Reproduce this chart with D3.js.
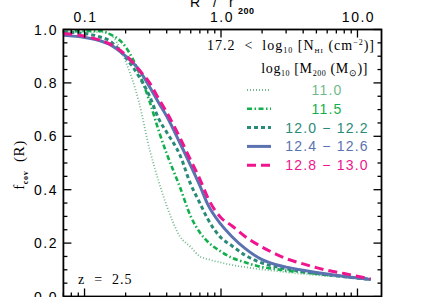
<!DOCTYPE html>
<html>
<head>
<meta charset="utf-8">
<script src="https://cdn.jsdelivr.net/npm/d3@7"></script>
<style>
  body { margin: 0; background: #fff; }
  svg { display: block; }
  .tick-label { font-family: "Liberation Sans", Arial, sans-serif; font-size: 14px; letter-spacing: 1.5px; fill: #000; }
  .serif { font-family: "Liberation Serif", "Times New Roman", serif; fill: #000; letter-spacing: 0.6px; white-space: pre; }
</style>
</head>
<body>
<svg width="424" height="297"></svg>
<script>
// projected radius R / r200 (shared bins)
const radius = [0.07, 0.1, 0.13, 0.15, 0.2, 0.25, 0.3, 0.35, 0.4, 0.5, 0.6, 0.7, 0.8,
  1.0, 1.2, 1.5, 2, 2.5, 3, 4, 5, 6, 8, 10, 12.5];

// covering fraction per halo mass bin
const fcov110 = [0.99, 0.99, 0.99, 0.985, 0.88, 0.73, 0.55, 0.43, 0.34, 0.225, 0.185, 0.15, 0.14,
  0.127, 0.118, 0.11, 0.101, 0.096, 0.091, 0.084, 0.08, 0.077, 0.072, 0.068, 0.063];
const fcov115 = [0.99, 0.995, 0.995, 0.985, 0.935, 0.84, 0.73, 0.62, 0.535, 0.41, 0.3, 0.24, 0.205,
  0.168, 0.145, 0.128, 0.11, 0.103, 0.097, 0.091, 0.085, 0.081, 0.075, 0.069, 0.064];
const fcov120 = [0.99, 0.985, 0.972, 0.96, 0.895, 0.825, 0.75, 0.665, 0.615, 0.53, 0.42, 0.35, 0.29,
  0.22, 0.19, 0.155, 0.125, 0.112, 0.104, 0.093, 0.086, 0.081, 0.074, 0.069, 0.064];
const fcov124 = [0.978, 0.97, 0.958, 0.946, 0.9, 0.85, 0.785, 0.725, 0.675, 0.575, 0.49, 0.415, 0.345,
  0.27, 0.225, 0.18, 0.138, 0.12, 0.11, 0.098, 0.09, 0.084, 0.075, 0.069, 0.064];
const fcov128 = [0.985, 0.975, 0.96, 0.948, 0.905, 0.85, 0.8, 0.74, 0.69, 0.595, 0.51, 0.44, 0.37,
  0.295, 0.265, 0.225, 0.185, 0.16, 0.142, 0.122, 0.108, 0.098, 0.086, 0.076, 0.066];

const massLabels = ["11.0", "11.5", "12.0 \u2212 12.2", "12.4 \u2212 12.6", "12.8 \u2212 13.0"];
const xTickValues = [0.1, 1, 10];
const xTickLabels = ["0.1", "1.0", "10.0"];
const yTickValues = [0, 0.2, 0.4, 0.6, 0.8, 1.0];

const series = [
  { label: massLabels[0], values: fcov110, color: "#72b98e", width: 1.8, dash: "1,2" },
  { label: massLabels[1], values: fcov115, color: "#12b04c", width: 2.6, dash: "5,2.5,1.5,2.5" },
  { label: massLabels[2], values: fcov120, color: "#2a8a78", width: 3, dash: "4,3" },
  { label: massLabels[3], values: fcov124, color: "#5b72b0", width: 3, dash: null },
  { label: massLabels[4], values: fcov128, color: "#f0158e", width: 3, dash: "9,5" }
];

const svg = d3.select("svg");
const plotL = 63.4, plotR = 381.5, plotT = 29.5, plotB = 296.5;

const x = d3.scaleLog().domain([0.07, 15]).range([plotL, plotR]);
const y = d3.scaleLinear().domain([0, 1]).range([plotB, plotT]);

// curves, clipped to frame
svg.append("clipPath").attr("id", "clip")
  .append("rect").attr("x", plotL).attr("y", plotT).attr("width", plotR - plotL).attr("height", plotB - plotT);

const line = d3.line()
  .x((d, i) => x(radius[i]))
  .y(d => y(d))
  .curve(d3.curveMonotoneX);

svg.append("g").attr("clip-path", "url(#clip)")
  .selectAll("path")
  .data(series)
  .enter().append("path")
  .attr("d", d => line(d.values))
  .attr("fill", "none")
  .attr("stroke", d => d.color)
  .attr("stroke-width", d => d.width)
  .attr("stroke-dasharray", d => d.dash);

// axes: log minor ticks on top and bottom, 0.05 minor on left and right
const minorX = [];
[0.01, 0.1, 1, 10].forEach(dec => {
  for (let k = 2; k <= 9; k++) {
    const v = dec * k;
    if (v >= 0.07 && v <= 15) minorX.push(v);
  }
});
const minorY = d3.range(0.05, 1, 0.05).filter(v => Math.abs(v * 5 - Math.round(v * 5)) > 1e-6);

const axisG = svg.append("g").attr("stroke", "#000").attr("stroke-width", 1.3);

function tickLines(vals, len, side) {
  vals.forEach(v => {
    if (side === "bottom") axisG.append("line").attr("x1", x(v)).attr("x2", x(v)).attr("y1", plotB).attr("y2", plotB - len);
    if (side === "top") axisG.append("line").attr("x1", x(v)).attr("x2", x(v)).attr("y1", plotT).attr("y2", plotT + len);
    if (side === "left") axisG.append("line").attr("x1", plotL).attr("x2", plotL + len).attr("y1", y(v)).attr("y2", y(v));
    if (side === "right") axisG.append("line").attr("x1", plotR).attr("x2", plotR - len).attr("y1", y(v)).attr("y2", y(v));
  });
}
tickLines(xTickValues, 8, "bottom");
tickLines(xTickValues, 8, "top");
tickLines(minorX, 4, "bottom");
tickLines(minorX, 4, "top");
tickLines(yTickValues, 8, "left");
tickLines(yTickValues, 8, "right");
tickLines(minorY, 4, "left");
tickLines(minorY, 4, "right");

svg.append("rect")
  .attr("x", plotL).attr("y", plotT)
  .attr("width", plotR - plotL).attr("height", plotB - plotT)
  .attr("fill", "none").attr("stroke", "#000").attr("stroke-width", 1.8);

// tick labels
svg.selectAll(".xlab")
  .data(xTickValues)
  .enter().append("text")
  .attr("class", "tick-label")
  .attr("x", d => x(d) + 1)
  .attr("y", 22)
  .attr("text-anchor", "middle")
  .text((d, i) => xTickLabels[i]);

svg.selectAll(".ylab")
  .data(yTickValues)
  .enter().append("text")
  .attr("class", "tick-label")
  .attr("x", 58)
  .attr("y", d => y(d) + 5)
  .attr("text-anchor", "end")
  .text(d => d.toFixed(1));

// axis titles
const xt = svg.append("text").attr("class", "tick-label").attr("y", 7);
xt.append("tspan").attr("x", 190).text("R");
xt.append("tspan").attr("x", 213).text("/");
xt.append("tspan").attr("x", 229).text("r");
xt.append("tspan").attr("x", 238).attr("font-size", "9px").attr("dy", 7).attr("font-weight", "bold")
  .style("letter-spacing", "0.5px").text("200");

const yt = svg.append("text").attr("class", "serif")
  .attr("transform", "translate(24,165) rotate(-90)")
  .attr("text-anchor", "middle").attr("font-size", "15px");
yt.append("tspan").text("f");
yt.append("tspan").attr("font-size", "8px").attr("dy", 4).attr("font-weight", "bold").text("cov");
yt.append("tspan").attr("dy", -4).text("  (R)");

// legend headers
const h1 = svg.append("text").attr("class", "serif").attr("x", 375).attr("y", 50)
  .attr("text-anchor", "end").attr("font-size", "14px").style("letter-spacing", "1px");
h1.append("tspan").text("17.2  <  log");
h1.append("tspan").attr("font-size", "8px").attr("dy", 3).text("10");
h1.append("tspan").attr("dy", -3).text(" [N");
h1.append("tspan").attr("font-size", "7px").attr("dy", 3).text("HI");
h1.append("tspan").attr("dy", -3).text(" (cm");
h1.append("tspan").attr("font-size", "8px").attr("dy", -5).text("\u22122");
h1.append("tspan").attr("dy", 5).text(")]");

const h2 = svg.append("text").attr("class", "serif").attr("x", 368).attr("y", 73)
  .attr("text-anchor", "end").attr("font-size", "14px");
h2.append("tspan").text("log");
h2.append("tspan").attr("font-size", "8px").attr("dy", 3).text("10");
h2.append("tspan").attr("dy", -3).text(" [M");
h2.append("tspan").attr("font-size", "8px").attr("dy", 3).text("200");
h2.append("tspan").attr("dy", -3).text(" (M");
h2.append("tspan").attr("font-size", "9px").attr("dy", 3).text("\u2299");
h2.append("tspan").attr("dy", -3).text(")]");

// legend entries
const leg = svg.selectAll(".leg")
  .data(series)
  .enter().append("g")
  .attr("transform", (d, i) => "translate(0," + (90 + i * 18.8) + ")");

leg.append("line")
  .attr("x1", 247).attr("x2", 271)
  .attr("stroke", d => d.color)
  .attr("stroke-width", d => d.width)
  .attr("stroke-dasharray", d => d.dash);

leg.append("text")
  .attr("x", 327).attr("y", 5)
  .attr("text-anchor", "middle")
  .attr("font-family", "'Liberation Sans', Arial, sans-serif")
  .attr("font-size", "14px")
  .style("letter-spacing", "1.2px")
  .style("white-space", "pre")
  .attr("fill", d => d.color)
  .text(d => d.label);

svg.append("text").attr("class", "serif")
  .attr("x", 78).attr("y", 284).attr("font-size", "14px")
  .style("letter-spacing", "1px")
  .text("z  =  2.5");
</script>
</body>
</html>
